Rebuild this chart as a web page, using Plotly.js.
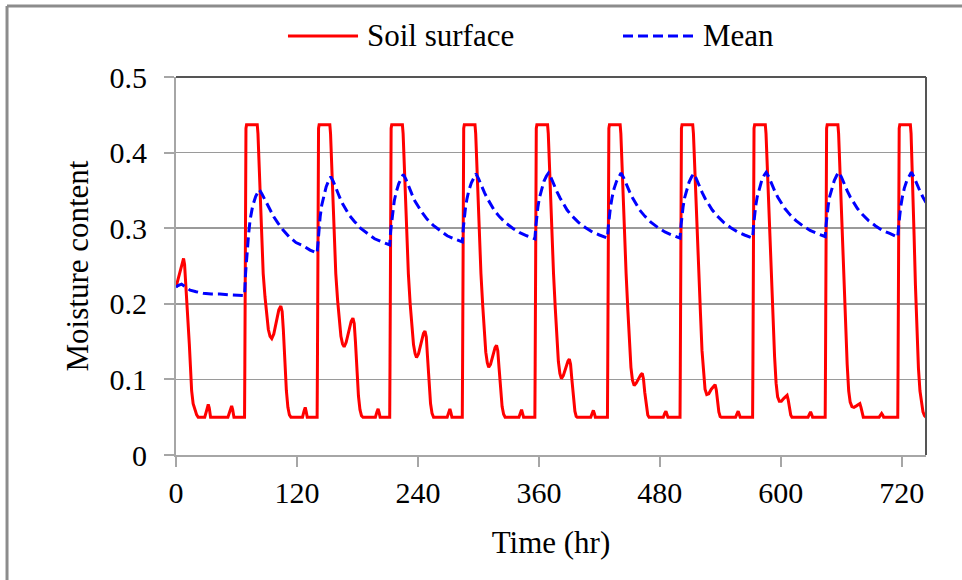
<!DOCTYPE html>
<html>
<head>
<meta charset="utf-8">
<script src="https://cdn.plot.ly/plotly-3.0.1.min.js"></script>
<style>
html,body{margin:0;padding:0;background:#fff;overflow:hidden;}
#chart{width:962px;height:580px;}
</style>
</head>
<body>
<div id="chart"></div>
<script>
// ---------- data ----------
const seriesNames = ['Soil surface', 'Mean'];

const soilTime = [
  0, 2, 4, 6, 7.5, 8.5, 9.5, 10.6, 12, 13.2, 14.4, 15.5, 17, 18.8, 20.5, 22,
  28.5, 30, 31.2, 32, 33, 34.3, 51.5, 53, 54.3, 55.2, 56.2, 57.5, 67.8,
  68, 68.3, 68.9, 69.4, 70, 80.6, 81.3, 82, 82.7, 83.8, 85, 86.5, 88.3, 90, 91.6, 93.3, 95, 97, 99.8, 102, 104, 105.3, 106.5, 108, 109.5, 111, 112.5, 114,
  125.5, 127, 128.2, 129.2, 130.2, 139.8,
  140, 140.3, 140.9, 141.4, 142, 152.6, 153.3, 154, 154.7, 155.8, 157, 158.5, 160.3, 162, 163.6, 165.2, 166.8, 168.8, 171.5, 173.8, 175.5, 176.8, 178, 179.5, 181, 182.5, 184, 185.5,
  197.8, 199.3, 200.5, 201.5, 202.5, 211.8,
  212, 212.3, 212.9, 213.4, 214, 224.6, 225.3, 226, 226.7, 227.8, 229, 230.5, 232.3, 234, 235.6, 237.2, 238.6, 240.6, 243.2, 245.5, 247, 248.3, 249.5, 251, 252.5, 254, 255.5,
  269, 270.5, 271.7, 272.7, 273.7, 283.8,
  284, 284.3, 284.9, 285.4, 286, 296.6, 297.3, 298, 298.7, 299.8, 301, 302.5, 304.3, 305.8, 307.3, 308.8, 310.2, 312, 314.5, 316.5, 318, 319.2, 320.5, 322, 323.5, 325, 326.5,
  340.2, 341.6, 342.8, 343.8, 344.8, 355.8,
  356, 356.3, 356.9, 357.4, 358, 368.6, 369.3, 370, 370.7, 371.8, 373, 374.5, 376.3, 377.8, 379.3, 380.8, 382.3, 384.2, 386.8, 388.8, 390.2, 391.4, 392.7, 394.2, 395.7, 397, 398,
  411.4, 412.8, 414, 415, 416, 427.8,
  428, 428.3, 428.9, 429.4, 430, 440.6, 441.3, 442, 442.7, 443.8, 445, 446.5, 448.3, 449.8, 451.3, 452.8, 454.5, 456.5, 459, 461, 462.5, 463.7, 465, 466.5, 468, 469.3,
  483.4, 484.8, 486, 487, 488, 499.8,
  500, 500.3, 500.9, 501.4, 502, 512.6, 513.3, 514, 514.7, 515.8, 517, 518.5, 520.3, 521.8, 523.3, 524.8, 526.5, 528.5, 531, 533.3, 534.8, 536, 537.2, 538.5, 539.8, 541,
  555.1, 556.5, 557.7, 558.7, 559.7, 571.8,
  572, 572.3, 572.9, 573.4, 574, 584.6, 585.3, 586, 586.7, 587.8, 589, 590.5, 592.3, 593.8, 595.3, 596.8, 598.5, 600.5, 603, 605, 606.2, 607.3, 608.5, 609.8, 611,
  627, 628.4, 629.5, 630.5, 631.5, 643.8,
  644, 644.3, 644.9, 645.4, 646, 656.6, 657.3, 658, 658.7, 659.8, 661, 662.5, 664.3, 665.8, 667.3, 668.8, 670.5, 672.5, 675, 677, 678.4, 679.5, 680.6, 681.8,
  697.5, 698.8, 700, 701, 702, 715.8,
  716, 716.3, 716.9, 717.4, 718, 728.5, 729.2, 730, 731, 732.2, 733.5, 735, 736.5, 738, 739.5, 741, 742.5, 744
];
const soilMoisture = [
  0.222, 0.232, 0.243, 0.254, 0.26, 0.252, 0.232, 0.209, 0.178, 0.147, 0.115, 0.085, 0.068, 0.059, 0.053, 0.05,
  0.05, 0.057, 0.064, 0.067, 0.062, 0.05, 0.05, 0.056, 0.062, 0.065, 0.06, 0.05, 0.05,
  0.05, 0.12, 0.40, 0.432, 0.437, 0.437, 0.425, 0.40, 0.367, 0.32, 0.279, 0.24, 0.209, 0.183, 0.166, 0.157, 0.154, 0.16, 0.178, 0.192, 0.197, 0.19, 0.165, 0.12, 0.085, 0.063, 0.053, 0.05,
  0.05, 0.058, 0.063, 0.057, 0.05, 0.05,
  0.05, 0.12, 0.40, 0.432, 0.437, 0.437, 0.425, 0.40, 0.367, 0.32, 0.279, 0.24, 0.205, 0.176, 0.157, 0.147, 0.143, 0.149, 0.164, 0.177, 0.181, 0.174, 0.15, 0.11, 0.078, 0.06, 0.052, 0.05,
  0.05, 0.057, 0.061, 0.056, 0.05, 0.05,
  0.05, 0.12, 0.40, 0.432, 0.437, 0.437, 0.425, 0.40, 0.367, 0.32, 0.279, 0.24, 0.2, 0.168, 0.146, 0.134, 0.129, 0.134, 0.149, 0.161, 0.164, 0.156, 0.13, 0.095, 0.068, 0.055, 0.05,
  0.05, 0.057, 0.061, 0.056, 0.05, 0.05,
  0.05, 0.12, 0.40, 0.432, 0.437, 0.437, 0.425, 0.40, 0.367, 0.32, 0.279, 0.24, 0.197, 0.16, 0.136, 0.122, 0.116, 0.12, 0.132, 0.142, 0.145, 0.138, 0.115, 0.085, 0.064, 0.054, 0.05,
  0.05, 0.056, 0.06, 0.055, 0.05, 0.05,
  0.05, 0.12, 0.40, 0.432, 0.437, 0.437, 0.425, 0.40, 0.367, 0.32, 0.279, 0.24, 0.193, 0.152, 0.124, 0.108, 0.101, 0.105, 0.116, 0.124, 0.127, 0.12, 0.1, 0.074, 0.058, 0.051, 0.05,
  0.05, 0.055, 0.059, 0.055, 0.05, 0.05,
  0.05, 0.12, 0.40, 0.432, 0.437, 0.437, 0.425, 0.40, 0.367, 0.32, 0.279, 0.24, 0.19, 0.146, 0.116, 0.099, 0.092, 0.095, 0.102, 0.106, 0.108, 0.101, 0.083, 0.064, 0.053, 0.05,
  0.05, 0.055, 0.058, 0.054, 0.05, 0.05,
  0.05, 0.12, 0.40, 0.432, 0.437, 0.437, 0.425, 0.40, 0.367, 0.32, 0.279, 0.24, 0.186, 0.138, 0.105, 0.087, 0.08, 0.081, 0.087, 0.091, 0.093, 0.086, 0.07, 0.057, 0.051, 0.05,
  0.05, 0.055, 0.058, 0.054, 0.05, 0.05,
  0.05, 0.12, 0.40, 0.432, 0.437, 0.437, 0.425, 0.40, 0.367, 0.32, 0.279, 0.24, 0.18, 0.13, 0.095, 0.077, 0.071, 0.071, 0.075, 0.078, 0.079, 0.073, 0.061, 0.053, 0.05,
  0.05, 0.054, 0.057, 0.054, 0.05, 0.05,
  0.05, 0.12, 0.40, 0.432, 0.437, 0.437, 0.425, 0.40, 0.367, 0.32, 0.279, 0.24, 0.175, 0.12, 0.085, 0.07, 0.064, 0.063, 0.065, 0.067, 0.068, 0.063, 0.056, 0.05,
  0.05, 0.053, 0.055, 0.053, 0.05, 0.05,
  0.05, 0.12, 0.40, 0.432, 0.437, 0.437, 0.425, 0.395, 0.35, 0.29, 0.225, 0.16, 0.115, 0.085, 0.067, 0.057, 0.052, 0.05
];

const meanTime = [
  0, 2, 5.5, 10, 14, 20, 27, 35, 43.5, 52, 60, 68,
  69, 70, 71, 72, 73.5, 76, 79, 82.5, 85, 88, 91, 94, 97, 101, 106, 112, 119, 126, 133, 140,
  141, 142, 143, 144.5, 146.5, 149, 151.5, 153.5, 156, 159, 162, 165, 168, 172, 177, 183, 190, 197, 204, 212,
  213, 214, 215, 216.5, 218.5, 221, 223.5, 225.5, 228, 231, 234, 237, 240, 244, 249, 255, 262, 269, 276, 284,
  285, 286, 287, 288.5, 290.5, 293, 295.5, 297.5, 300, 303, 306, 309, 312, 316, 321, 327, 334, 341, 348, 356,
  357, 358, 359, 360.5, 362.5, 365, 367.5, 369.5, 372, 375, 378, 381, 384, 388, 393, 399, 406, 413, 420, 428,
  429, 430, 431, 432.5, 434.5, 437, 439.5, 441.5, 444, 447, 450, 453, 456, 460, 465, 471, 478, 485, 492, 500,
  501, 502, 503, 504.5, 506.5, 509, 511.5, 513.5, 516, 519, 522, 525, 528, 532, 537, 543, 550, 557, 564, 572,
  573, 574, 575, 576.5, 578.5, 581, 583.5, 585.5, 588, 591, 594, 597, 600, 604, 609, 615, 622, 629, 636, 644,
  645, 646, 647, 648.5, 650.5, 653, 655.5, 657.5, 660, 663, 666, 669, 672, 676, 681, 687, 694, 701, 708, 716,
  717, 718, 719, 720.5, 722.5, 725, 727.5, 729.5, 732, 735, 738, 741, 744
];
const meanMoisture = [
  0.222, 0.224, 0.226, 0.222, 0.218, 0.216, 0.214, 0.213, 0.213, 0.212, 0.212, 0.211,
  0.24, 0.262, 0.279, 0.292, 0.311, 0.329, 0.342, 0.351, 0.346, 0.338, 0.33, 0.322, 0.315, 0.307, 0.298, 0.289, 0.281, 0.277, 0.271, 0.267,
  0.287, 0.303, 0.315, 0.33, 0.343, 0.355, 0.363, 0.368, 0.362, 0.351, 0.342, 0.333, 0.326, 0.317, 0.309, 0.3, 0.293, 0.286, 0.282, 0.278,
  0.297, 0.311, 0.323, 0.336, 0.348, 0.359, 0.366, 0.371, 0.365, 0.354, 0.345, 0.336, 0.329, 0.321, 0.312, 0.304, 0.297, 0.29, 0.286, 0.282,
  0.3, 0.314, 0.325, 0.338, 0.35, 0.36, 0.368, 0.372, 0.366, 0.356, 0.347, 0.339, 0.332, 0.323, 0.315, 0.307, 0.3, 0.294, 0.29, 0.286,
  0.303, 0.317, 0.328, 0.34, 0.351, 0.362, 0.369, 0.373, 0.367, 0.357, 0.348, 0.34, 0.333, 0.324, 0.316, 0.308, 0.301, 0.295, 0.291, 0.287,
  0.304, 0.318, 0.328, 0.34, 0.352, 0.362, 0.369, 0.373, 0.367, 0.357, 0.348, 0.34, 0.333, 0.324, 0.316, 0.308, 0.301, 0.295, 0.291, 0.287,
  0.304, 0.318, 0.328, 0.34, 0.351, 0.361, 0.368, 0.372, 0.366, 0.356, 0.347, 0.339, 0.332, 0.324, 0.316, 0.308, 0.301, 0.295, 0.291, 0.287,
  0.304, 0.318, 0.329, 0.341, 0.352, 0.363, 0.37, 0.374, 0.368, 0.358, 0.349, 0.341, 0.334, 0.326, 0.318, 0.31, 0.303, 0.297, 0.293, 0.289,
  0.306, 0.32, 0.33, 0.342, 0.353, 0.363, 0.37, 0.374, 0.368, 0.358, 0.349, 0.341, 0.334, 0.326, 0.318, 0.31, 0.303, 0.297, 0.293, 0.288,
  0.305, 0.319, 0.329, 0.341, 0.353, 0.363, 0.37, 0.374, 0.368, 0.358, 0.349, 0.341, 0.334
];

const xTickVals = [0, 120, 240, 360, 480, 600, 720];
const yTickVals = [0, 0.1, 0.2, 0.3, 0.4, 0.5];
const xTitle = 'Time (hr)';
const yTitle = 'Moisture content';

// ---------- styles ----------
const RED = '#ff0000';
const BLUE = '#0000ff';
const AXIS_GRAY = '#a6a6a6';
const FONT = 'Liberation Serif, Times New Roman, serif';

const traces = [
  {x: soilTime, y: soilMoisture, name: seriesNames[0], type: 'scatter', mode: 'lines',
   line: {color: RED, width: 3}},
  {x: meanTime, y: meanMoisture, name: seriesNames[1], type: 'scatter', mode: 'lines',
   line: {color: BLUE, width: 3, dash: '10px,5px'}}
];

// legend placement (paper units relative to the plot area)
const legY = 1.1085;
const layout = {
  width: 962, height: 580,
  margin: {l: 176, r: 36, t: 77, b: 125},
  paper_bgcolor: '#ffffff', plot_bgcolor: '#ffffff',
  font: {family: FONT, color: '#000000', size: 30},
  showlegend: false,
  xaxis: {
    range: [0, 744], tickvals: xTickVals, ticks: 'outside', ticklen: 10, tickwidth: 2,
    tickcolor: AXIS_GRAY, showline: true, linecolor: AXIS_GRAY, linewidth: 2,
    showgrid: false, zeroline: false, tickfont: {size: 30, family: FONT},
    ticklabelstandoff: 0,
    title: {text: xTitle, font: {size: 31, family: FONT}, standoff: 23}
  },
  yaxis: {
    range: [0, 0.5], tickvals: yTickVals, ticks: 'outside', ticklen: 10, tickwidth: 2,
    tickcolor: AXIS_GRAY, showline: true, linecolor: AXIS_GRAY, linewidth: 2,
    showgrid: true, gridcolor: '#9a9a9a', gridwidth: 1.5, zeroline: false,
    tickfont: {size: 30, family: FONT}, ticklabelstandoff: 11,
    title: {text: yTitle, font: {size: 31, family: FONT}, standoff: 12}
  },
  shapes: [
    // plot frame top & right
    {type: 'line', xref: 'paper', yref: 'paper', x0: 0, x1: 1, y0: 1, y1: 1, line: {color: '#555555', width: 2}},
    {type: 'line', xref: 'paper', yref: 'paper', x0: 1, x1: 1, y0: 0, y1: 1, line: {color: '#555555', width: 2}},
    // outer figure border (left & top)
    {type: 'line', xref: 'paper', yref: 'paper', x0: -0.2253, x1: 1.1, y0: 1.1878, y1: 1.1878, line: {color: '#8c8c8c', width: 3}},
    {type: 'line', xref: 'paper', yref: 'paper', x0: -0.2253, x1: -0.2253, y0: -0.4, y1: 1.1878, line: {color: '#8c8c8c', width: 3}},
    // legend symbols
    {type: 'line', xref: 'paper', yref: 'paper', x0: 0.1493, x1: 0.2427, y0: legY, y1: legY, line: {color: RED, width: 3}},
    {type: 'line', xref: 'paper', yref: 'paper', x0: 0.596, x1: 0.6947, y0: legY, y1: legY, line: {color: BLUE, width: 3, dash: '10px,5px'}}
  ],
  annotations: [
    {xref: 'paper', yref: 'paper', x: 0.252, y: legY, xanchor: 'left', yanchor: 'middle', showarrow: false,
     text: seriesNames[0], font: {size: 31, family: FONT, color: '#000'}},
    {xref: 'paper', yref: 'paper', x: 0.70, y: legY, xanchor: 'left', yanchor: 'middle', showarrow: false,
     text: seriesNames[1], font: {size: 31, family: FONT, color: '#000'}}
  ]
};

Plotly.newPlot('chart', traces, layout, {displayModeBar: false, staticPlot: true});
</script>
</body>
</html>
